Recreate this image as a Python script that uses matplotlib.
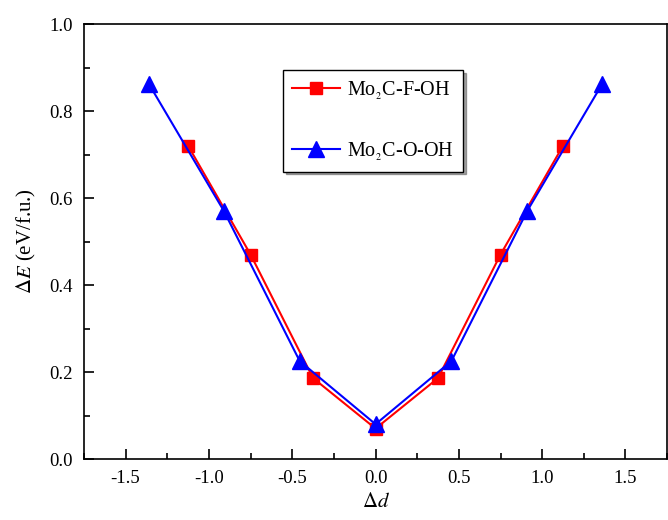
import matplotlib.pyplot as plt
from matplotlib.ticker import MultipleLocator

plt.rcParams['font.family'] = ['Liberation Serif', 'DejaVu Serif']
plt.rcParams['mathtext.fontset'] = 'stix'

# data
f_x = [-1.125, -0.75, -0.375, 0.0, 0.375, 0.75, 1.125]
f_y = [0.72, 0.47, 0.186, 0.07, 0.186, 0.47, 0.72]
o_x = [-1.36, -0.91, -0.455, 0.0, 0.455, 0.91, 1.36]
o_y = [0.862, 0.57, 0.225, 0.08, 0.225, 0.57, 0.862]

fig = plt.figure(figsize=(6.68, 5.2), dpi=100)
ax = fig.add_axes([0.1257, 0.1173, 0.873, 0.8365])

ax.plot(f_x, f_y, color='red', marker='s', markersize=9, linewidth=1.5,
        label='Mo$_{_2}$C-F-OH')
ax.plot(o_x, o_y, color='blue', marker='^', markersize=11, linewidth=1.5,
        label='Mo$_{_2}$C-O-OH')

ax.set_xlim(-1.75, 1.75)
ax.set_ylim(0, 1.0)
ax.xaxis.set_major_locator(MultipleLocator(0.5))
ax.xaxis.set_minor_locator(MultipleLocator(0.25))
ax.yaxis.set_major_locator(MultipleLocator(0.2))
ax.yaxis.set_minor_locator(MultipleLocator(0.1))
ax.xaxis.set_major_formatter(plt.FuncFormatter(lambda v, p: f'{v:.1f}'))
ax.yaxis.set_major_formatter(plt.FuncFormatter(lambda v, p: f'{v:.1f}'))
ax.tick_params(which='both', direction='in', top=False, right=False,
               labelsize=13.5, width=1.2)
ax.tick_params(which='major', length=7, pad=8)
ax.tick_params(which='minor', length=4)
for s in ax.spines.values():
    s.set_linewidth(1.2)

ax.set_xlabel(r'$\Delta d$', fontsize=15, labelpad=4)
ax.set_ylabel(r'$\Delta E$ (eV/f.u.)', fontsize=15, labelpad=8)

leg = ax.legend(loc='upper left', bbox_to_anchor=(0.341, 0.894), fontsize=14.5,
                frameon=True, fancybox=False, shadow=True, edgecolor='black',
                labelspacing=1.9, handlelength=2.4, handletextpad=0.35,
                borderpad=0.45, borderaxespad=0)
leg.get_frame().set_linewidth(1.0)

fig.savefig('out.png', dpi=100)
